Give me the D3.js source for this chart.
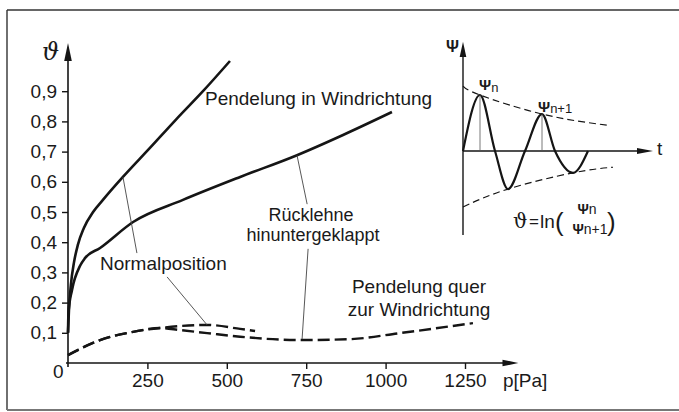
<!DOCTYPE html>
<html>
<head>
<meta charset="utf-8">
<script src="https://cdn.jsdelivr.net/npm/d3@7"></script>
<style>
  html, body { margin: 0; padding: 0; background: #fff; }
  svg { display: block; }
  text { font-family: "Liberation Sans", Arial, Helvetica, sans-serif; fill: #1a1a1a; }
</style>
</head>
<body>
<svg id="chart" width="679" height="412"></svg>
<script>
// ---------------- data ----------------
const pTicks = [250, 500, 750, 1000, 1250];
const thetaTicks = [0.1, 0.2, 0.3, 0.4, 0.5, 0.6, 0.7, 0.8, 0.9];

// Pendelung in Windrichtung, Normalposition (solid, upper)
const inWindNormalP     = [0, 3, 9, 19, 31, 50, 79, 110, 173, 258, 340, 425, 510];
const inWindNormalTheta = [0.1, 0.175, 0.258, 0.334, 0.391, 0.447, 0.5, 0.54, 0.616, 0.712, 0.806, 0.9, 1.0];

// Pendelung in Windrichtung, Rücklehne hinuntergeklappt (solid, lower)
const inWindBackP     = [0, 1.6, 12.6, 38, 54, 101, 205, 362, 542, 721, 866, 1020];
const inWindBackTheta = [0.1, 0.169, 0.242, 0.322, 0.348, 0.381, 0.467, 0.54, 0.616, 0.688, 0.755, 0.831];

// Pendelung quer zur Windrichtung, Normalposition (dashed, short)
const crossNormalP     = [0, 101, 205, 290, 353, 438, 542, 589];
const crossNormalTheta = [0.026, 0.076, 0.103, 0.116, 0.1225, 0.126, 0.113, 0.106];

// Pendelung quer zur Windrichtung, Rücklehne hinuntergeklappt (dashed, long)
const crossBackP     = [0, 101, 205, 290, 353, 438, 542, 731, 888, 1045, 1275];
const crossBackTheta = [0.026, 0.076, 0.103, 0.116, 0.109, 0.099, 0.087, 0.076, 0.079, 0.099, 0.132];

// Inset: damped oscillation (schematic)
const insetT   = [0, 17, 32, 45, 62, 79, 92, 110, 125];
const insetPsi = [0, 1.0, 0, -0.68, 0, 0.66, 0, -0.39, 0];
const envUpperT   = [0, 17, 79, 144];
const envUpperPsi = [1.16, 1.0, 0.66, 0.46];
const envLowerT   = [0, 45, 110, 150];
const envLowerPsi = [-1.0, -0.68, -0.39, -0.29];
const insetPeaksT   = [17, 79];
const insetPeaksPsi = [1.0, 0.66];

// ---------------- drawing ----------------
const svg = d3.select("#chart");
const ink = "#151515";

// frame
svg.append("line").attr("x1", 7).attr("y1", 10).attr("x2", 679).attr("y2", 10)
  .attr("stroke", "#333").attr("stroke-width", 1.4);
svg.append("line").attr("x1", 7).attr("y1", 10).attr("x2", 7).attr("y2", 410)
  .attr("stroke", "#333").attr("stroke-width", 1.4);
svg.append("line").attr("x1", 7).attr("y1", 410).attr("x2", 679).attr("y2", 410)
  .attr("stroke", "#777").attr("stroke-width", 2);

// main scales
const x = d3.scaleLinear().domain([0, 1250]).range([68, 465]);
const y = d3.scaleLinear().domain([0, 0.9]).range([363, 91.2]);

const fmt = d => d3.format(".1f")(d).replace(".", ",");

// y axis
const yAxis = svg.append("g").attr("transform", `translate(${x(0)},0)`)
  .call(d3.axisLeft(y).tickValues(thetaTicks).tickSize(6).tickPadding(5).tickFormat(fmt));
yAxis.select(".domain").remove();
yAxis.selectAll(".tick line").attr("stroke", ink).attr("stroke-width", 1.4);
yAxis.selectAll(".tick text").attr("font-size", 19).attr("fill", ink)
  .attr("font-family", "Liberation Sans, Arial, sans-serif");

// x axis
const xAxis = svg.append("g").attr("transform", `translate(0,${y(0)})`)
  .call(d3.axisBottom(x).tickValues(pTicks).tickSize(6).tickPadding(5).tickFormat(d3.format("d")));
xAxis.select(".domain").remove();
xAxis.selectAll(".tick line").attr("stroke", ink).attr("stroke-width", 1.4);
xAxis.selectAll(".tick text").attr("font-size", 19).attr("fill", ink)
  .attr("font-family", "Liberation Sans, Arial, sans-serif");

// axis lines with arrows
svg.append("line").attr("x1", x(0)).attr("y1", y(0) + 4).attr("x2", x(0)).attr("y2", y(1.03))
  .attr("stroke", ink).attr("stroke-width", 1.6);
svg.append("path")
  .attr("d", `M${x(0)},${y(1.06)} L${x(0) - 3.8},${y(1.0)} L${x(0) + 3.8},${y(1.0)} Z`)
  .attr("fill", ink);
svg.append("line").attr("x1", x(0) - 2).attr("y1", y(0)).attr("x2", x(1390)).attr("y2", y(0))
  .attr("stroke", ink).attr("stroke-width", 1.6);
svg.append("path")
  .attr("d", `M${x(1418)},${y(0)} L${x(1368)},${y(0) - 3.3} L${x(1368)},${y(0) + 3.3} Z`)
  .attr("fill", ink);

// axis labels
svg.append("text").attr("x", 53).attr("y", 378).attr("font-size", 19).text("0");
svg.append("text").attr("x", 503).attr("y", 387).attr("font-size", 19).text("p[Pa]");
svg.append("text").attr("x", 42).attr("y", 60).attr("font-size", 24)
  .attr("font-style", "italic").style("font-family", "DejaVu Serif, serif").text("ϑ");

// curves
const line = d3.line().x(d => x(d[0])).y(d => y(d[1])).curve(d3.curveMonotoneX);
const zip = (a, b) => a.map((v, i) => [v, b[i]]);

svg.append("path").attr("d", line(zip(inWindNormalP, inWindNormalTheta)))
  .attr("fill", "none").attr("stroke", ink).attr("stroke-width", 2.6);
svg.append("path").attr("d", line(zip(inWindBackP, inWindBackTheta)))
  .attr("fill", "none").attr("stroke", ink).attr("stroke-width", 2.6);
svg.append("path").attr("d", line(zip(crossBackP, crossBackTheta)))
  .attr("fill", "none").attr("stroke", ink).attr("stroke-width", 2.4)
  .attr("stroke-dasharray", "12,5");
svg.append("path").attr("d", line(zip(crossNormalP, crossNormalTheta)))
  .attr("fill", "none").attr("stroke", ink).attr("stroke-width", 2.4)
  .attr("stroke-dasharray", "12,5");

// leader lines (data coordinates)
const leaders = [
  [[173, 0.616], [217, 0.364]],
  [[312, 0.285], [438, 0.126]],
  [[721, 0.688], [753, 0.526]],
  [[756, 0.378], [737, 0.079]]
];
leaders.forEach(l => {
  svg.append("line").attr("x1", x(l[0][0])).attr("y1", y(l[0][1]))
    .attr("x2", x(l[1][0])).attr("y2", y(l[1][1]))
    .attr("stroke", "#444").attr("stroke-width", 0.9);
});

// labels
svg.append("text").attr("x", 205).attr("y", 105).attr("font-size", 19).text("Pendelung in Windrichtung");
svg.append("text").attr("x", 100).attr("y", 270).attr("font-size", 19).text("Normalposition");
svg.append("text").attr("x", 311).attr("y", 221).attr("font-size", 18).attr("text-anchor", "middle").text("Rücklehne");
svg.append("text").attr("x", 313).attr("y", 241).attr("font-size", 18).attr("text-anchor", "middle").text("hinuntergeklappt");
svg.append("text").attr("x", 419).attr("y", 293).attr("font-size", 19).attr("text-anchor", "middle").text("Pendelung quer");
svg.append("text").attr("x", 419).attr("y", 316).attr("font-size", 19).attr("text-anchor", "middle").text("zur Windrichtung");

// ---------------- inset ----------------
const tx = d3.scaleLinear().domain([0, 190]).range([463, 653]);
const py = d3.scaleLinear().domain([0, 1]).range([151, 95]);

svg.append("line").attr("x1", tx(0)).attr("y1", py(-1.5)).attr("x2", tx(0)).attr("y2", py(1.75))
  .attr("stroke", ink).attr("stroke-width", 1.4);
svg.append("path")
  .attr("d", `M${tx(0)},${py(1.95)} L${tx(0) - 3.3},${py(1.68)} L${tx(0) + 3.3},${py(1.68)} Z`)
  .attr("fill", ink);
svg.append("line").attr("x1", tx(0)).attr("y1", py(0)).attr("x2", tx(176)).attr("y2", py(0))
  .attr("stroke", ink).attr("stroke-width", 1.4);
svg.append("path")
  .attr("d", `M${tx(190)},${py(0)} L${tx(174)},${py(0) - 3} L${tx(174)},${py(0) + 3} Z`)
  .attr("fill", ink);

const iline = d3.line().x(d => tx(d[0])).y(d => py(d[1])).curve(d3.curveMonotoneX);
const ienv = d3.line().x(d => tx(d[0])).y(d => py(d[1])).curve(d3.curveNatural);

svg.append("path").attr("d", iline(zip(insetT, insetPsi)))
  .attr("fill", "none").attr("stroke", ink).attr("stroke-width", 2.2);
svg.append("path").attr("d", ienv(zip(envUpperT, envUpperPsi)))
  .attr("fill", "none").attr("stroke", ink).attr("stroke-width", 1.2).attr("stroke-dasharray", "7,4");
svg.append("path").attr("d", ienv(zip(envLowerT, envLowerPsi)))
  .attr("fill", "none").attr("stroke", ink).attr("stroke-width", 1.2).attr("stroke-dasharray", "7,4");
insetPeaksT.forEach((t, i) => {
  svg.append("line").attr("x1", tx(t)).attr("y1", py(insetPeaksPsi[i])).attr("x2", tx(t)).attr("y2", py(0))
    .attr("stroke", "#555").attr("stroke-width", 0.8);
});

// inset labels
svg.append("text").attr("x", 446).attr("y", 52).attr("font-size", 16).attr("font-weight", "bold").text("Ψ");
svg.append("text").attr("x", 657).attr("y", 155).attr("font-size", 19).text("t");
const lblN = svg.append("text").attr("x", 479).attr("y", 90).attr("font-size", 15);
lblN.append("tspan").attr("font-weight", "bold").text("Ψ");
lblN.append("tspan").attr("font-size", 13).attr("dy", 2).text("n");
const lblN1 = svg.append("text").attr("x", 538).attr("y", 112).attr("font-size", 15);
lblN1.append("tspan").attr("font-weight", "bold").text("Ψ");
lblN1.append("tspan").attr("font-size", 13).attr("dy", 1).text("n+1");

// formula
svg.append("text").attr("x", 513).attr("y", 228).attr("font-size", 20)
  .style("font-family", "DejaVu Serif, serif").text("ϑ");
svg.append("text").attr("x", 529).attr("y", 227).attr("font-size", 17).text("=");
svg.append("text").attr("x", 540).attr("y", 228).attr("font-size", 19).text("ln");
svg.append("text").attr("x", 555).attr("y", 231).attr("font-size", 26).attr("font-weight", "300").text("(");
const num = svg.append("text").attr("x", 587).attr("y", 214).attr("font-size", 14).attr("text-anchor", "middle");
num.append("tspan").attr("font-weight", "bold").text("Ψ");
num.append("tspan").text("n");
const den = svg.append("text").attr("x", 590).attr("y", 234).attr("font-size", 14).attr("text-anchor", "middle");
den.append("tspan").attr("font-weight", "bold").text("Ψ");
den.append("tspan").text("n+1");
svg.append("text").attr("x", 607).attr("y", 231).attr("font-size", 26).attr("font-weight", "300").text(")");
</script>
</body>
</html>
